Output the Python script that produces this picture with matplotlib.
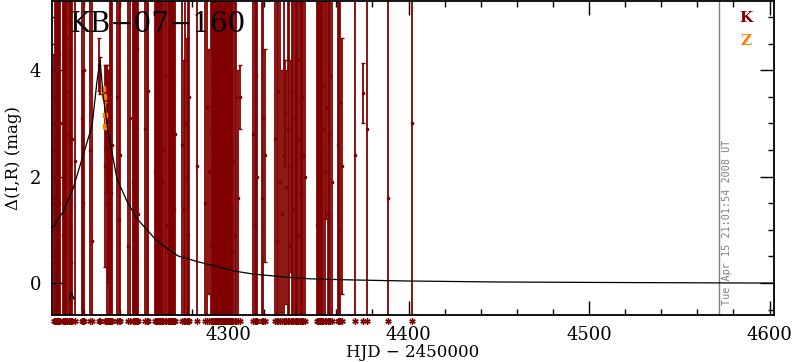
import matplotlib
matplotlib.use("Agg")
import matplotlib.pyplot as plt
from matplotlib.ticker import MultipleLocator

# K-band photometry (HJD - 2450000, delta mag, error)
k_hjd = [
    4203.6, 4204.2, 4204.6, 4205.0, 4205.4, 4205.8, 4206.2, 4206.6, 4206.9,
    4208.6, 4209.0, 4209.4, 4209.8, 4210.2, 4210.6,
    4212.0, 4212.5, 4213.1, 4213.6, 4215.2,
    4219.2, 4219.7, 4220.2, 4223.8, 4224.4,
    4228.3, 4228.8,
    4232.0, 4232.4, 4232.8, 4233.2, 4233.6, 4234.0, 4234.4, 4234.8, 4235.3, 4235.7,
    4238.6, 4239.4, 4240.2, 4244.7, 4245.5,
    4247.5, 4248.0, 4248.6, 4249.2, 4249.8, 4250.4,
    4254.2, 4255.0, 4255.6,
    4259.6, 4260.0, 4260.4, 4260.8, 4261.2, 4261.6, 4262.0, 4262.4, 4262.8, 4263.3,
    4264.2, 4265.0, 4265.8,
    4266.8, 4267.2, 4267.6, 4268.0, 4268.4, 4268.8, 4269.2, 4269.6, 4270.0, 4270.5,
    4274.6, 4275.4, 4276.2, 4277.0, 4277.8, 4278.6, 4282.8,
    4287.4, 4288.4, 4289.4, 4290.4, 4291.0,
    4291.7, 4292.1, 4292.5, 4292.9, 4293.3, 4293.7, 4294.1, 4294.5, 4294.9, 4295.3,
    4295.7, 4296.1, 4296.5, 4296.9, 4297.3, 4297.7, 4298.1, 4298.5, 4298.9, 4299.3,
    4299.7, 4300.1, 4300.5, 4300.9, 4301.3, 4301.7, 4302.1,
    4303.0, 4303.8, 4304.6, 4305.4, 4306.7,
    4314.0, 4314.8, 4315.6, 4316.1, 4318.9, 4319.6, 4320.4,
    4326.1, 4326.9, 4327.7, 4328.6,
    4330.0, 4330.8, 4331.6, 4332.4, 4333.2, 4334.0, 4334.8, 4335.4,
    4336.2, 4336.9, 4337.6, 4338.3, 4339.0, 4339.7, 4340.4, 4341.1, 4341.6, 4342.7,
    4349.3, 4349.7, 4350.1, 4350.5, 4350.9, 4351.3, 4351.7, 4352.1, 4352.5,
    4353.8, 4354.5, 4355.2, 4356.0, 4356.5, 4357.6,
    4361.0, 4361.6, 4362.3, 4363.0,
    4370.4, 4374.8, 4377.0, 4388.6, 4402.0,
]
k_dmag = [
    1.6, 2.6, 1.1, 3.4, 0.6, 2.0, 4.3, 1.5, 3.0,
    0.9, 3.8, 2.2, 1.4, 4.6, 2.8,
    3.6, 1.9, 0.4, 2.7, 2.3,
    3.1, 1.5, 4.0, 2.5, 0.8,
    4.1, 3.9,
    2.2, 3.3, 1.5, 2.9, 2.0, 1.0, 2.4, 3.0, 1.7, 2.6,
    3.5, 1.2, 2.4, 0.7, 3.1,
    1.9, 3.8, 2.6, 0.5, 4.4, 1.3,
    2.9, 1.0, 3.6,
    2.1, 4.0, 0.8, 3.2, 1.6, 2.7, 4.7, 0.3, 3.4, 1.9,
    2.5, 3.9, 1.1,
    0.6, 2.9, 4.2, 1.8, 3.3, 0.9, 2.3, 3.7, 1.4, 2.8,
    2.6, 1.4, 3.0, 2.0, 0.9, 3.5, 2.2,
    1.5, 3.3, 2.1, 0.7, 2.9,
    1.2, 3.6, 2.4, 0.5, 4.1, 1.9, 2.9, 0.9, 3.4, 2.2,
    4.6, 1.3, 2.7, 0.4, 3.9, 1.7, 3.0, 2.1, 0.8, 3.7,
    1.5, 2.6, 4.3, 1.0, 3.2, 2.0, 0.6,
    2.3, 0.9, 3.5, 1.6, 3.5,
    2.8, 1.1, 3.9, 2.0, 1.6, 3.1, 2.4,
    2.7, 0.8, 3.6, 1.9,
    1.3, 2.4, 3.2, 1.8, 2.9, 0.7, 2.2, 3.6,
    1.4, 3.1, 2.3, 4.2, 0.9, 2.7, 1.7, 3.5, 2.4, 2.0,
    1.1, 3.0, 2.2, 4.1, 0.6, 2.6, 1.6, 3.7, 2.9,
    2.1, 3.3, 1.3, 2.8, 3.9, 1.9,
    2.6, 1.0, 3.4, 2.2,
    2.4, 3.57, 2.9, 1.6, 3.0,
]
k_err = [
    2.7, 6.0, 6.0, 6.0, 6.0, 6.0, 6.0, 6.0, 6.0,
    6.0, 6.0, 6.0, 6.0, 6.0, 6.0,
    6.0, 6.0, 6.0, 6.0, 6.0,
    6.0, 2.5, 6.0, 6.0, 6.0,
    0.5, 0.35,
    1.9, 0.8, 2.5, 1.2, 2.0, 3.0, 1.6, 6.0, 6.0, 6.0,
    6.0, 6.0, 6.0, 6.0, 6.0,
    6.0, 6.0, 6.0, 6.0, 6.0, 6.0,
    6.0, 6.0, 6.0,
    6.0, 6.0, 6.0, 6.0, 6.0, 6.0, 6.0, 6.0, 6.0, 6.0,
    6.0, 6.0, 6.0,
    6.0, 6.0, 6.0, 6.0, 6.0, 6.0, 6.0, 6.0, 6.0, 6.0,
    6.0, 2.8, 6.0, 2.6, 6.0, 6.0, 6.0,
    6.0, 6.0, 2.3, 6.0, 6.0,
    6.0, 6.0, 6.0, 6.0, 6.0, 6.0, 6.0, 6.0, 6.0, 6.0,
    6.0, 6.0, 6.0, 6.0, 6.0, 6.0, 6.0, 6.0, 6.0, 6.0,
    6.0, 6.0, 6.0, 6.0, 6.0, 6.0, 6.0,
    6.0, 6.0, 6.0, 2.4, 0.6,
    6.0, 6.0, 6.0, 6.0, 6.0, 6.0, 2.0,
    6.0, 6.0, 6.0, 6.0,
    2.7, 6.0, 1.0, 2.2, 6.0, 6.0, 2.0, 6.0,
    6.0, 6.0, 6.0, 6.0, 6.0, 6.0, 6.0, 6.0, 6.0, 6.0,
    6.0, 6.0, 6.0, 6.0, 6.0, 6.0, 6.0, 6.0, 6.0,
    6.0, 2.1, 6.0, 6.0, 6.0, 6.0,
    6.0, 6.0, 6.0, 2.4,
    6.0, 0.57, 6.0, 6.0, 6.0,
]

# Z-band photometry
z_hjd = [4231.0, 4231.2, 4231.6, 4231.8]
z_dmag = [3.65, 3.50, 3.15, 2.95]
z_err = [0.05, 0.05, 0.25, 0.03]

# model curve
model_hjd = [4202.5, 4208.6, 4214.1, 4219.7, 4224.7, 4227.4, 4229.1, 4230.8,
             4233.5, 4238.5, 4244.1, 4249.6, 4259.6, 4265.1, 4272.3, 4283.4,
             4292.8, 4302.8, 4313.9, 4332.7, 4345.4, 4367.6, 4398.1, 4450.7,
             4518.8, 4602.5]
model_dmag = [1.02, 1.34, 1.77, 2.40, 2.96, 3.79, 4.19, 3.53,
              2.85, 1.96, 1.53, 1.21, 0.83, 0.68, 0.51, 0.40,
              0.32, 0.23, 0.17, 0.11, 0.08, 0.06, 0.04, 0.02,
              0.01, 0.0]
base_hjd = [4202.5, 4208.5]
base_dmag = [0.0, 0.0]
bump_hjd = [4212.0, 4213.3, 4214.6]
bump_dmag = [-0.30, -0.17, -0.30]

K_COLOR = "#800000"
Z_COLOR = "#ff8000"
STAMP = "Tue Apr 15 21:01:54 2008 UT"


def plot_lightcurve():
    fig = plt.figure(figsize=(7.92, 3.62), dpi=100)
    ax = fig.add_axes([0.0657, 0.1298, 0.9116, 0.8674])

    ax.errorbar(k_hjd, k_dmag, yerr=k_err, fmt="s", ms=1.6, color=K_COLOR,
                ecolor=K_COLOR, elinewidth=1.3, capsize=1.3, capthick=1.0,
                zorder=2)
    ax.errorbar(z_hjd, z_dmag, yerr=z_err, fmt="s", ms=3.0, color=Z_COLOR,
                ecolor=Z_COLOR, elinewidth=1.0, capsize=1.3, zorder=3)

    ax.plot(model_hjd, model_dmag, color="black", lw=0.9, zorder=4)
    ax.plot(base_hjd, base_dmag, color="black", lw=0.9, zorder=4)
    ax.plot(bump_hjd, bump_dmag, color="black", lw=0.9, zorder=4)

    # rug of observation times just below the frame
    xt = ax.get_xaxis_transform()
    ax.plot(k_hjd, [-0.02] * len(k_hjd), ls="none", marker=(6, 2, 0), ms=4.5,
            mew=1.0, color=K_COLOR, transform=xt, clip_on=False)

    # time stamp line
    ax.axvline(4572.0, color="#808080", lw=1.0, zorder=1)
    ax.text(4573.8, 0.032, STAMP, rotation=90, color="#808080",
            family="DejaVu Sans Mono", fontsize=7.3, ha="left", va="bottom",
            transform=xt)

    ax.text(4212.0, 4.85, "KB\u221207\u2212160", family="DejaVu Serif",
            fontsize=20, va="center", ha="left")
    ax.text(4587.0, 4.98, "K", color=K_COLOR, family="DejaVu Serif",
            fontweight="bold", fontsize=11, ha="center", va="center")
    ax.text(4587.0, 4.55, "Z", color=Z_COLOR, family="DejaVu Serif",
            fontweight="bold", fontsize=11, ha="center", va="center")

    ax.set_xlim(4202.5, 4602.5)
    ax.set_ylim(-0.6, 5.3)
    ax.xaxis.set_major_locator(MultipleLocator(100))
    ax.xaxis.set_minor_locator(MultipleLocator(20))
    ax.yaxis.set_major_locator(MultipleLocator(2))
    ax.yaxis.set_minor_locator(MultipleLocator(0.5))
    ax.tick_params(which="both", direction="in", top=True, right=True,
                   width=1.0, pad=8, labelsize=13)
    ax.tick_params(which="major", length=10)
    ax.tick_params(which="minor", length=4.5)
    for lab in ax.get_xticklabels() + ax.get_yticklabels():
        lab.set_family("DejaVu Serif")
    for sp in ax.spines.values():
        sp.set_linewidth(1.3)

    ax.set_xlabel("HJD \u2212 2450000", family="DejaVu Serif", fontsize=12,
                  labelpad=0)
    ax.set_ylabel("\u0394(I,R) (mag)", family="DejaVu Serif", fontsize=12,
                  labelpad=5)

    fig.savefig("out.png", dpi=100)


if __name__ == "__main__":
    plot_lightcurve()
